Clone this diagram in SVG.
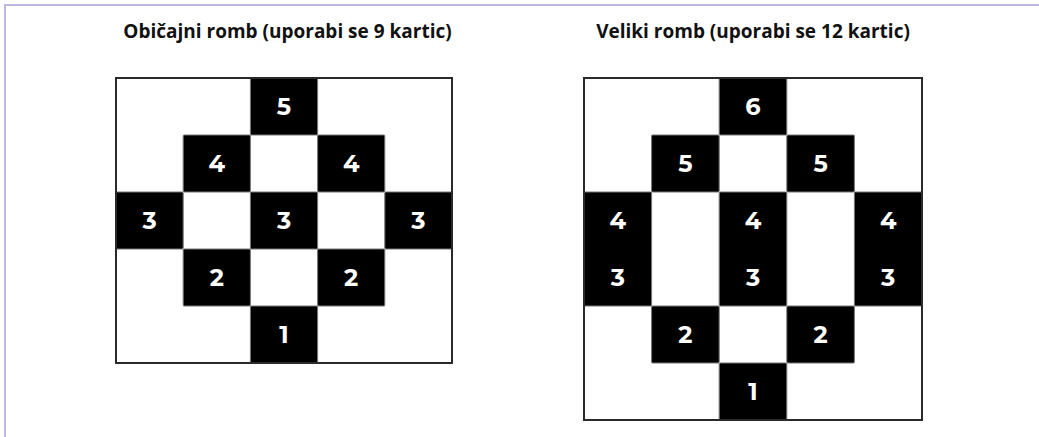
<svg xmlns="http://www.w3.org/2000/svg" width="1039" height="437" viewBox="0 0 1039 437">
<style>
.frame{stroke:#bdb9dd;stroke-width:2;fill:none}
.title{font-family:"Open Sans","Liberation Sans",sans-serif;font-weight:700;font-size:19px;fill:#111;text-anchor:middle}
.w{fill:#fff}
.b{fill:#000;stroke:#777;stroke-width:1}
.ob{stroke:#2a2a2a;stroke-width:2;fill:none}
.n{font-family:"Montserrat","Open Sans","Liberation Sans",sans-serif;font-weight:700;font-size:24px;fill:#fff;text-anchor:middle;dominant-baseline:central}
</style>
<rect width="1039" height="437" fill="#fff"/>
<g id="frame"><path class="frame" d="M5,437 V5 H1039"/></g>
<text class="title" x="287.5" y="38">Običajni romb (uporabi se 9 kartic)</text>
<text class="title" x="753" y="38">Veliki romb (uporabi se 12 kartic)</text>

<g id="romb9">
<rect class="w" x="116" y="78" width="336" height="285"/>
<g id="r9-5"><rect class="b" x="250.4" y="78" width="67.2" height="57" rx="1"/><text class="n" x="284" y="106.5">5</text></g>
<g id="r9-4a"><rect class="b" x="183.2" y="135" width="67.2" height="57" rx="1"/><text class="n" x="216.8" y="163.5">4</text></g>
<g id="r9-4b"><rect class="b" x="317.6" y="135" width="67.2" height="57" rx="1"/><text class="n" x="351.2" y="163.5">4</text></g>
<g id="r9-3a"><rect class="b" x="116" y="192" width="67.2" height="57" rx="1"/><text class="n" x="149.6" y="220.5">3</text></g>
<g id="r9-3b"><rect class="b" x="250.4" y="192" width="67.2" height="57" rx="1"/><text class="n" x="284" y="220.5">3</text></g>
<g id="r9-3c"><rect class="b" x="384.8" y="192" width="67.2" height="57" rx="1"/><text class="n" x="418.4" y="220.5">3</text></g>
<g id="r9-2a"><rect class="b" x="183.2" y="249" width="67.2" height="57" rx="1"/><text class="n" x="216.8" y="277.5">2</text></g>
<g id="r9-2b"><rect class="b" x="317.6" y="249" width="67.2" height="57" rx="1"/><text class="n" x="351.2" y="277.5">2</text></g>
<g id="r9-1"><rect class="b" x="250.4" y="306" width="67.2" height="57" rx="1"/><text class="n" x="284" y="334.5">1</text></g>
<rect class="ob" x="116" y="78" width="336" height="285"/>
</g>

<g id="romb12">
<rect class="w" x="584" y="78" width="338" height="342"/>
<g id="r12-6"><rect class="b" x="719.2" y="78" width="67.6" height="57" rx="1"/><text class="n" x="753" y="106.5">6</text></g>
<g id="r12-5a"><rect class="b" x="651.6" y="135" width="67.6" height="57" rx="1"/><text class="n" x="685.4" y="163.5">5</text></g>
<g id="r12-5b"><rect class="b" x="786.8" y="135" width="67.6" height="57" rx="1"/><text class="n" x="820.6" y="163.5">5</text></g>
<g id="r12-43a"><rect class="b" x="584" y="192" width="67.6" height="114" rx="1"/><text class="n" x="617.8" y="220.5">4</text><text class="n" x="617.8" y="277.5">3</text></g>
<g id="r12-43b"><rect class="b" x="719.2" y="192" width="67.6" height="114" rx="1"/><text class="n" x="753" y="220.5">4</text><text class="n" x="753" y="277.5">3</text></g>
<g id="r12-43c"><rect class="b" x="854.4" y="192" width="67.6" height="114" rx="1"/><text class="n" x="888.2" y="220.5">4</text><text class="n" x="888.2" y="277.5">3</text></g>
<g id="r12-2a"><rect class="b" x="651.6" y="306" width="67.6" height="57" rx="1"/><text class="n" x="685.4" y="334.5">2</text></g>
<g id="r12-2b"><rect class="b" x="786.8" y="306" width="67.6" height="57" rx="1"/><text class="n" x="820.6" y="334.5">2</text></g>
<g id="r12-1"><rect class="b" x="719.2" y="363" width="67.6" height="57" rx="1"/><text class="n" x="753" y="391.5">1</text></g>
<rect class="ob" x="584" y="78" width="338" height="342"/>
</g>
</svg>
